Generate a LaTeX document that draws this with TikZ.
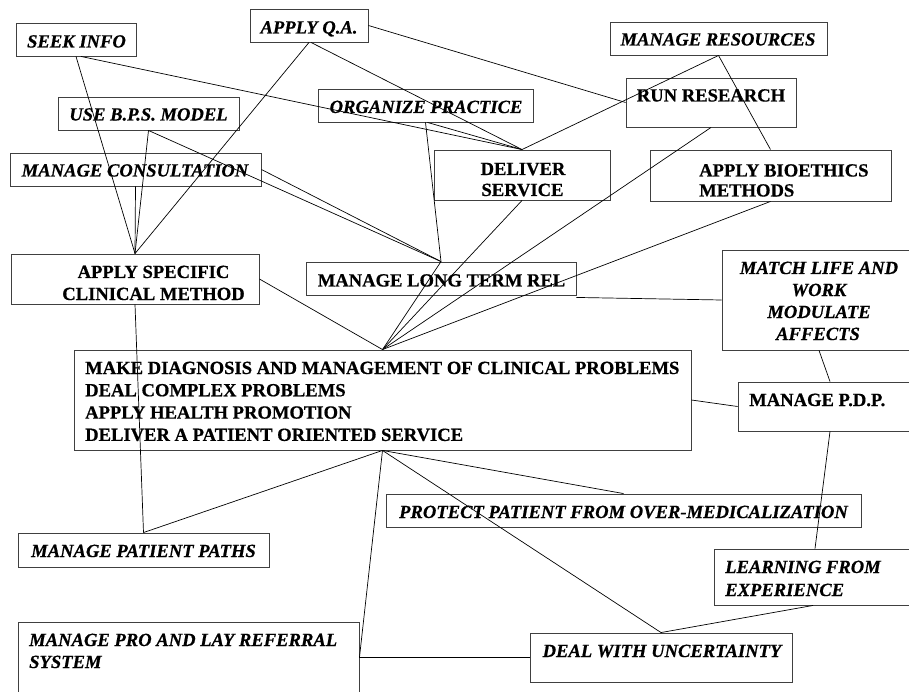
\documentclass[tikz,border=0pt]{standalone}
\usepackage{fontspec}
\setmainfont{Liberation Serif}[BoldFeatures={FakeBold=0.6},BoldItalicFeatures={FakeBold=0.6}]
\newcommand\mkbox[5]{%
  \node[box, minimum width={(#4-#2)*1pt}, minimum height={(#5-#3)*1pt}] (#1) at ({(#2+#4)/2},{(#3+#5)/2}) {};}
\begin{document}
\begin{tikzpicture}[x=1pt,y=-1pt,
  box/.style={draw=black!75, line width=0.9pt, inner sep=0pt},
  tb/.style={inner sep=0pt, font=\fontsize{18.6}{22.3}\selectfont\bfseries},
  ti/.style={inner sep=0pt, font=\fontsize{18.6}{22.3}\selectfont\bfseries\itshape},
  link/.style={draw=black, line width=0.7pt}]
\useasboundingbox (0,0) rectangle (909,692);
% boxes
\mkbox{seek}{16}{23}{136}{56}
\mkbox{apq}{250}{9}{368}{42}
\mkbox{bps}{58}{97}{239}{130}
\mkbox{cons}{10}{153}{261}{186}
\mkbox{org}{318}{89}{533}{122}
\mkbox{res}{610}{22}{827}{55}
\mkbox{run}{626}{78}{796}{127}
\mkbox{deliver}{434}{150}{610}{200}
\mkbox{bio}{650}{150}{891}{201}
\mkbox{spec}{11}{254}{259}{304}
\mkbox{mltr}{306}{262}{576}{295}
\mkbox{match}{722}{250}{916}{350}
\mkbox{diag}{74}{350}{691}{450}
\mkbox{pdp}{738}{382}{922}{431}
\mkbox{prot}{386}{494}{861}{527}
\mkbox{paths}{18}{533}{269}{567}
\mkbox{learn}{714}{549}{920}{605}
\mkbox{pro}{18}{622}{359}{693}
\mkbox{unc}{530}{633}{792}{682}
% texts
\node[ti, anchor=base] (seek-t) at (76.5,47.5) {SEEK INFO};
\node[ti, anchor=base] (apq-t) at (309,33.5) {APPLY Q.A.};
\node[ti, anchor=base] (bps-t) at (148.5,120.5) {USE B.P.S. MODEL};
\node[ti, anchor=base] (cons-t) at (135,176.5) {MANAGE CONSULTATION};
\node[ti, anchor=base] (org-t) at (426,113) {ORGANIZE PRACTICE};
\node[ti, anchor=base] (res-t) at (718,45.5) {MANAGE RESOURCES};
\node[tb, anchor=base] (run-t) at (711,101.5) {RUN RESEARCH};
\node[tb, anchor=base] (deliver-t1) at (523,175) {DELIVER};
\node[tb, anchor=base] (deliver-t2) at (522.5,196) {SERVICE};
\node[tb, anchor=base west] (bio-t1) at (699,176.5) {APPLY BIOETHICS};
\node[tb, anchor=base west] (bio-t2) at (699,196.5) {METHODS};
\node[tb, anchor=base] (spec-t1) at (153.5,278) {APPLY SPECIFIC};
\node[tb, anchor=base] (spec-t2) at (153.5,300) {CLINICAL METHOD};
\node[tb, anchor=base] (mltr-t) at (441.5,286.5) {MANAGE LONG TERM REL};
\node[ti, anchor=base] (match-t1) at (819,274) {MATCH LIFE AND};
\node[ti, anchor=base] (match-t2) at (819,296) {WORK};
\node[ti, anchor=base] (match-t3) at (819,318) {MODULATE};
\node[ti, anchor=base] (match-t4) at (818,340) {AFFECTS};
\node[tb, anchor=base west] (diag-t1) at (85,374) {MAKE DIAGNOSIS AND MANAGEMENT OF CLINICAL PROBLEMS};
\node[tb, anchor=base west] (diag-t2) at (85,396.3) {DEAL COMPLEX PROBLEMS};
\node[tb, anchor=base west] (diag-t3) at (85,418.6) {APPLY HEALTH PROMOTION};
\node[tb, anchor=base west] (diag-t4) at (85,440.9) {DELIVER A PATIENT ORIENTED SERVICE};
\node[tb, anchor=base west] (pdp-t) at (749,406) {MANAGE P.D.P.};
\node[ti, anchor=base] (prot-t) at (623.5,518) {PROTECT PATIENT FROM OVER-MEDICALIZATION};
\node[ti, anchor=base] (paths-t) at (143.5,557) {MANAGE PATIENT PATHS};
\node[ti, anchor=base west] (learn-t1) at (725,573) {LEARNING FROM};
\node[ti, anchor=base west] (learn-t2) at (725,596) {EXPERIENCE};
\node[ti, anchor=base west] (pro-t1) at (29,646) {MANAGE PRO AND LAY REFERRAL};
\node[ti, anchor=base west] (pro-t2) at (29,668) {SYSTEM};
\node[ti, anchor=base] (unc-t) at (662,657) {DEAL WITH UNCERTAINTY};
% connectors
\draw[link] (seek.south) -- (spec.north);
\draw[link] ([xshift=5pt]seek.south) -- (deliver.north);
\draw[link] (apq.south) -- (spec.north);
\draw[link] ([xshift=2pt]apq.south) -- (deliver.north);
\draw[link] (apq.east) -- (run.west);
\draw[link] (bps.south) -- (spec.north);
\draw[link] (bps.south) -- (mltr.north);
\draw[link] (cons.south) -- (spec.north);
\draw[link] (cons.east) -- (mltr.north);
\draw[link] (org.south) -- (mltr.north);
\draw[link] ([xshift=2pt]org.south) -- (deliver.north);
\draw[link] (res.south) -- (deliver.north);
\draw[link] (res.south) -- (bio.north);
\draw[link] (run.south) -- (diag.north);
\draw[link] (deliver.south) -- (diag.north);
\draw[link] (bio.south) -- (diag.north);
\draw[link] (spec.east) -- (diag.north);
\draw[link] (mltr.north) -- (diag.north);
\draw[link] ([yshift=-2pt]mltr.south east) -- (match.west);
\draw[link] (match.south) -- (pdp.north);
\draw[link] (diag.east) -- (pdp.west);
\draw[link] (pdp.south) -- ([xshift=-2pt]learn.north);
\draw[link] ([xshift=-4pt]learn.south) -- (unc.north);
\draw[link] (diag.south) -- (paths.north);
\draw[link] (diag.south) -- (prot.north);
\draw[link] (diag.south) -- (unc.north);
\draw[link] (diag.south) -- (pro.east);
\draw[link] (pro.east) -- (unc.west);
\draw[link] (spec.south) -- (paths.north);
\end{tikzpicture}
\end{document}
